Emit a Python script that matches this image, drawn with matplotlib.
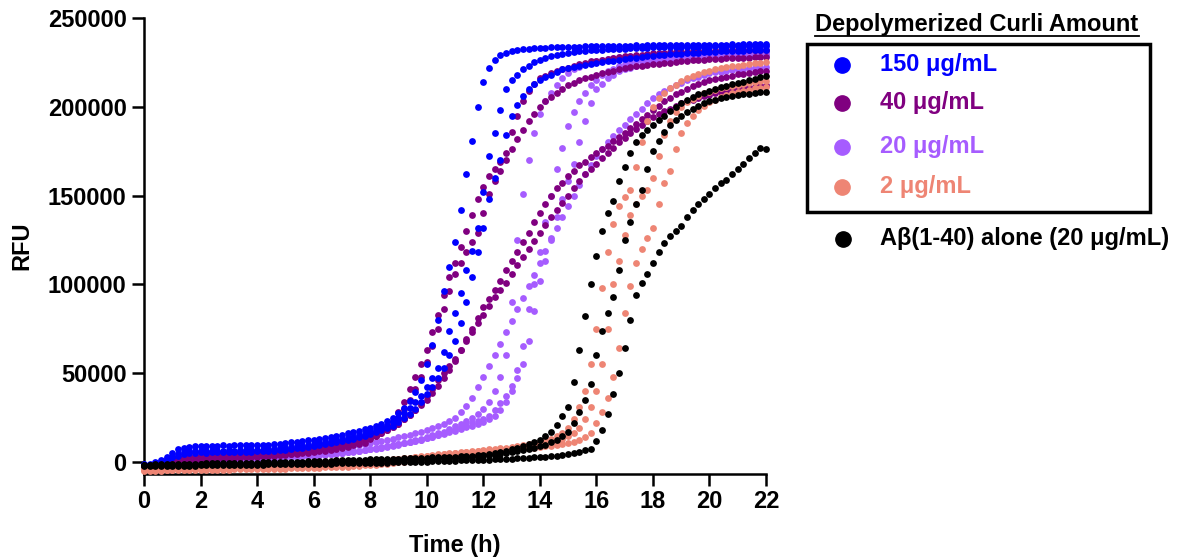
import numpy as np
import matplotlib.pyplot as plt
from matplotlib.lines import Line2D
from matplotlib.patches import Rectangle

plt.rcParams['font.family'] = ['Liberation Sans', 'DejaVu Sans']
plt.rcParams['font.weight'] = 'bold'

# plate read every 12 min, 0 - 22 h
time_h = np.arange(111) * 0.2

# RFU values in thousands, one list per replicate well
blue_150_a = [
    -1, -1, 0, 1, 3, 5, 7, 8, 8.5, 9,
    9, 9.2, 9, 9.1, 9.3, 9.2, 9.4, 9.3, 9.5, 9.4,
    9.6, 9.6, 9.8, 10, 10.2, 10.5, 11, 11.3, 11.7, 12.2,
    12.6, 13.1, 13.6, 14.2, 14.8, 15.4, 16, 16.7, 17.5, 18.3,
    19.2, 20.2, 21.5, 23, 25, 27.5, 30.5, 34.5, 39.5, 46,
    55, 66, 80, 96, 110, 124, 142, 162, 181, 200,
    214, 222, 226.5, 229, 230.5, 231.5, 232, 232.5, 232.8, 233,
    233.2, 233.3, 233.5, 233.4, 233.6, 233.8, 233.7, 233.9, 234, 234,
    234.1, 234, 234.2, 234.3, 234.2, 234.4, 234.3, 234.5, 234.4, 234.5,
    234.6, 234.5, 234.7, 234.6, 234.7, 234.8, 234.7, 234.8, 234.9, 234.8,
    234.9, 235, 234.9, 235, 235.1, 235, 235.1, 235.2, 235.1, 235.2,
    235.2]
blue_150_b = [
    -1.5, -1.5, -1, 0, 1.5, 3, 4.5, 5.5, 6, 6.2,
    6.2, 6.3, 6.2, 6.4, 6.3, 6.5, 6.4, 6.6, 6.5, 6.7,
    6.8, 6.9, 7.1, 7.3, 7.6, 7.9, 8.3, 8.7, 9.1, 9.5,
    10, 10.5, 11, 11.6, 12.2, 12.8, 13.5, 14.2, 15, 15.8,
    16.7, 17.7, 19, 20.5, 22.5, 25, 27.5, 30.5, 33.5, 37,
    42, 47, 53, 62, 74, 84, 95, 108, 119, 132,
    152, 172, 185, 198, 210, 215, 218, 221, 223, 225,
    226.5, 227.2, 228.5, 229.2, 229.8, 230.5, 230.9, 231.3, 231.6, 231.8,
    232, 232.2, 232.4, 232.5, 232.7, 232.8, 233, 233.1, 233.2, 233.3,
    233.4, 233.4, 233.5, 233.6, 233.6, 233.7, 233.7, 233.8, 233.8, 233.9,
    233.9, 234, 234, 234, 234.1, 234.1, 234.1, 234.2, 234.2, 234.2,
    234.3]
blue_150_c = [
    -2, -2, -1.5, -0.5, 1, 2.5, 3.5, 4.5, 5, 5.2,
    5.3, 5.2, 5.4, 5.3, 5.5, 5.4, 5.6, 5.6, 5.7, 5.8,
    5.9, 6, 6.2, 6.4, 6.6, 6.9, 7.2, 7.6, 8, 8.4,
    8.9, 9.4, 9.9, 10.5, 11.1, 11.7, 12.4, 13.1, 13.9, 14.7,
    15.6, 16.6, 17.7, 19, 20.5, 22.2, 24.5, 27, 30, 34,
    38, 42, 47, 53, 60, 68, 78, 90, 104, 118,
    132, 148, 160, 170, 184, 195, 201, 206, 210, 213,
    215, 216.5, 218, 219.5, 221, 221.8, 222.4, 223, 223.5, 224,
    224.8, 225.2, 225.6, 226, 226.4, 226.8, 227.2, 227.6, 228, 228.4,
    228.8, 229, 229.3, 229.5, 229.7, 229.9, 230.1, 230.3, 230.5, 230.7,
    230.9, 231, 231.2, 231.3, 231.4, 231.5, 231.6, 231.7, 231.8, 231.9,
    232]

purple_40_a = [
    -2, -2, -1.5, -1, 0, 1, 2, 2.8, 3.3, 3.6,
    3.8, 3.9, 4, 4.1, 4.2, 4.3, 4.4, 4.5, 4.7, 4.8,
    5, 5.2, 5.4, 5.6, 5.9, 6.2, 6.5, 6.8, 7.2, 7.6,
    8, 8.5, 9, 9.6, 10.2, 10.9, 11.6, 12.4, 13.3, 14.3,
    15.4, 16.8, 18.5, 20.5, 23, 28, 34, 41, 48, 55,
    63, 73, 83, 94, 104, 112, 121, 130, 139, 148,
    155, 161, 165, 169, 174, 186, 195, 203, 209, 213,
    216, 217.5, 219, 220, 221, 222, 223, 224, 224.8, 225.5,
    226, 226.5, 227, 227.5, 228, 228.4, 228.8, 229.1, 229.4, 229.7,
    230, 230.2, 230.4, 230.6, 230.8, 231, 231.1, 231.2, 231.3, 231.4,
    231.5, 231.6, 231.7, 231.8, 231.8, 231.9, 232, 232, 232.1, 232.1,
    232.2]
purple_40_b = [
    -2.5, -2.5, -2, -1.5, -0.5, 0.5, 1.5, 2.2, 2.7, 3,
    3.1, 3.2, 3.3, 3.4, 3.5, 3.6, 3.7, 3.8, 3.9, 4,
    4.2, 4.4, 4.6, 4.8, 5, 5.3, 5.6, 5.9, 6.3, 6.7,
    7.1, 7.6, 8.1, 8.7, 9.3, 10, 10.7, 11.5, 12.4, 13.4,
    14.5, 15.8, 17.3, 19, 21.5, 25, 30, 35, 41, 48,
    56, 65, 75, 86, 96, 106, 112, 118, 124, 129,
    140, 151, 158, 164, 170, 176, 182, 187, 192, 196,
    200, 203, 205.5, 208, 210, 212, 213.5, 215, 216, 217,
    218, 218.8, 219.5, 220.2, 221, 221.6, 222.2, 222.8, 223.2, 223.6,
    224, 224.3, 224.6, 224.9, 225.2, 225.5, 225.8, 226.1, 226.3, 226.5,
    226.7, 226.9, 227.1, 227.3, 227.4, 227.5, 227.6, 227.7, 227.8, 227.9,
    228]
purple_40_c = [
    -2, -2, -1.8, -1.5, -1, -0.5, 0, 0.5, 1, 1.3,
    1.5, 1.7, 1.8, 2, 2.1, 2.2, 2.4, 2.5, 2.7, 2.8,
    3, 3.2, 3.4, 3.6, 3.8, 4, 4.3, 4.6, 4.9, 5.2,
    5.6, 6, 6.4, 6.9, 7.4, 8, 8.6, 9.3, 10, 10.8,
    13, 14.5, 16, 17.7, 19.5, 21.5, 24, 26.5, 29, 32,
    35, 39, 43, 47, 52, 57, 63, 69, 75, 81,
    87, 92, 97, 102, 108, 113, 118, 124, 129, 135,
    140, 145, 150, 154, 157, 161, 164, 167, 169, 171.5,
    174, 176, 178, 180.5, 183, 185.5, 188, 190.5, 193, 195.5,
    198, 200.5, 203, 205, 207, 208.5, 210, 211.5, 213, 214,
    215, 215.7, 216.3, 217, 217.6, 218.2, 218.7, 219.2, 219.6, 220,
    220.3]
purple_40_d = [
    -2.5, -2.5, -2.2, -2, -1.5, -1, -0.5, 0, 0.4, 0.7,
    1, 1.2, 1.4, 1.6, 1.7, 1.9, 2.1, 2.3, 2.5, 2.7,
    2.9, 3.1, 3.3, 3.6, 3.9, 4.2, 4.5, 4.9, 5.3, 5.7,
    6.1, 6.6, 7.1, 7.7, 8.3, 9, 9.7, 10.5, 11.4, 12.4,
    13.5, 14.8, 16.2, 17.8, 19.6, 21.5, 24, 26.5, 29.5, 33,
    37, 41, 46, 50, 54, 58, 63, 68, 73, 78,
    83, 88, 93, 97, 101, 106, 111, 115.5, 120, 124.5,
    129, 133.5, 138, 142, 146, 150, 154, 158, 162, 165,
    168, 171, 174, 177, 180, 182.5, 185, 187.5, 190, 192,
    194, 196, 197.5, 199, 200.5, 202, 203, 204, 205, 206,
    206.8, 207.5, 208.2, 208.8, 209.4, 210, 210.5, 211, 211.4, 211.8,
    212]

lilac_20_a = [
    -2, -2, -1.8, -1.5, -1, -0.5, 0, 0.3, 0.6, 0.8,
    1, 1.1, 1.2, 1.3, 1.4, 1.5, 1.6, 1.7, 1.8, 1.9,
    2, 2.1, 2.2, 2.4, 2.6, 2.8, 3, 3.2, 3.4, 3.6,
    3.8, 4, 4.3, 4.6, 4.9, 5.2, 5.5, 5.9, 6.3, 6.7,
    7.2, 7.7, 8.2, 8.8, 9.4, 10, 10.7, 11.4, 12.2, 13,
    14, 15, 16, 17, 18.5, 20, 21.5, 23, 25, 27,
    30, 34, 40, 48, 60, 90, 125, 151, 170, 185,
    196, 203, 208, 212, 216, 219, 221, 222.5, 224, 225,
    226, 226.5, 227, 227.4, 227.8, 228.1, 228.4, 228.6, 228.8, 229,
    229.2, 229.4, 229.5, 229.6, 229.7, 229.8, 229.9, 230, 230.1, 230.2,
    230.3, 230.4, 230.5, 230.5, 230.6, 230.6, 230.7, 230.7, 230.8, 230.8,
    230.9]
lilac_20_b = [
    -2.5, -2.5, -2.2, -2, -1.5, -1, -0.6, -0.2, 0.1, 0.4,
    0.6, 0.8, 0.9, 1, 1.1, 1.2, 1.3, 1.4, 1.5, 1.6,
    1.7, 1.8, 1.9, 2.1, 2.3, 2.5, 2.7, 2.9, 3.1, 3.3,
    3.5, 3.8, 4.1, 4.4, 4.7, 5, 5.4, 5.8, 6.2, 6.6,
    7, 7.5, 8, 8.6, 9.2, 9.8, 10.4, 11.1, 11.8, 12.6,
    13.4, 14.3, 15.2, 16.1, 17.2, 18.3, 19.4, 20.5, 21.7, 23,
    24, 26, 29, 33, 37, 43, 52, 65, 86, 100,
    118, 135, 150, 165, 177, 189, 197, 203, 208, 212,
    215, 218, 220, 221.5, 223, 224, 224.8, 225.5, 226, 226.5,
    227, 227.3, 227.6, 227.9, 228.1, 228.3, 228.5, 228.7, 228.8, 228.9,
    229, 229.1, 229.2, 229.3, 229.3, 229.4, 229.4, 229.5, 229.5, 229.6,
    229.6]
lilac_20_c = [
    -2, -2, -1.8, -1.6, -1.2, -0.8, -0.4, 0, 0.3, 0.5,
    0.7, 0.8, 0.9, 1, 1.1, 1.2, 1.3, 1.4, 1.5, 1.6,
    1.7, 1.8, 2, 2.2, 2.4, 2.6, 2.8, 3, 3.2, 3.4,
    3.6, 3.9, 4.2, 4.5, 4.8, 5.1, 5.5, 5.9, 6.3, 6.7,
    7.1, 7.6, 8.1, 8.7, 9.3, 9.9, 10.5, 11.2, 11.9, 12.6,
    13.3, 14.1, 14.9, 15.7, 16.6, 17.5, 18.4, 19.4, 20.4, 21.5,
    22.5, 24, 26, 29, 34, 40, 47, 55, 68, 85,
    102, 113, 126, 138, 148, 158, 168, 180, 192, 202,
    210, 213, 216, 218, 220, 221, 222, 223, 223.7, 224.4,
    225, 225.5, 226, 226.4, 226.8, 227.1, 227.4, 227.6, 227.8, 228,
    228.2, 228.3, 228.4, 228.5, 228.6, 228.7, 228.8, 228.8, 228.9, 228.9,
    229]
lilac_20_d = [
    -2, -2, -1.8, -1.5, -1, -0.5, 0, 0.4, 0.8, 1.1,
    1.4, 1.6, 1.8, 2, 2.2, 2.4, 2.6, 2.8, 3, 3.2,
    3.4, 3.6, 3.8, 4, 4.3, 4.6, 4.9, 5.2, 5.5, 5.8,
    6.1, 6.5, 6.9, 7.3, 7.7, 8.1, 8.6, 9.1, 9.6, 10.1,
    10.6, 11.2, 11.8, 12.4, 13.1, 13.8, 14.6, 15.4, 16.2, 17.1,
    18, 19, 20.2, 21.5, 23, 25, 28, 31.5, 36, 42,
    48, 54, 60, 66.5, 73, 79.5, 86, 92.5, 99, 105.5,
    112, 118.5, 125, 131.5, 138, 144, 150, 156, 162, 167,
    172, 176, 180, 183.5, 187, 190, 193, 196, 199, 202,
    205, 207, 209, 210.5, 212, 213.5, 215, 216, 217, 218,
    219, 219.4, 219.8, 220.2, 220.6, 221, 221.3, 221.6, 221.8, 222,
    222.2]

salmon_2_a = [
    -4.5, -4.5, -4.4, -4.4, -4.3, -4.3, -4.2, -4.2, -4.1, -4.1,
    -4, -4, -3.9, -3.9, -3.8, -3.8, -3.7, -3.7, -3.6, -3.6,
    -3.5, -3.5, -3.4, -3.3, -3.3, -3.2, -3.1, -3, -2.9, -2.8,
    -2.7, -2.6, -2.4, -2.2, -2, -1.8, -1.5, -1.2, -0.9, -0.6,
    -0.3, 0, 0.4, 0.8, 1.2, 1.6, 2, 2.4, 2.8, 3.2,
    3.6, 4, 4.3, 4.6, 4.9, 5.2, 5.5, 5.8, 6.1, 6.4,
    6.7, 7, 7.3, 7.7, 8.1, 8.5, 9, 9.5, 10, 10.6,
    11.2, 12, 13, 14.5, 16, 19, 24, 31, 40, 55,
    75, 98, 118, 134, 144, 149, 153, 166, 180, 192,
    200, 205, 208, 210.5, 212.5, 214.5, 216, 217.5, 218.5, 219.5,
    220.3, 221, 221.6, 222.2, 222.7, 223.2, 223.6, 224, 224.4, 224.7,
    225]
salmon_2_b = [
    -4, -4, -4, -3.9, -3.9, -3.8, -3.8, -3.7, -3.7, -3.6,
    -3.6, -3.5, -3.5, -3.4, -3.4, -3.3, -3.3, -3.2, -3.2, -3.1,
    -3.1, -3, -3, -2.9, -2.8, -2.7, -2.6, -2.5, -2.4, -2.3,
    -2.2, -2, -1.8, -1.6, -1.4, -1.2, -0.9, -0.6, -0.3, 0,
    0.3, 0.6, 0.9, 1.2, 1.5, 1.8, 2.1, 2.4, 2.7, 3,
    3.3, 3.6, 3.9, 4.2, 4.5, 4.8, 5.1, 5.4, 5.7, 6,
    6.3, 6.6, 6.9, 7.2, 7.5, 7.9, 8.3, 8.7, 9.1, 9.5,
    10, 10.6, 11.2, 12, 13, 14.5, 16.5, 19, 24, 31,
    40, 55, 75, 100, 113, 128, 139, 145, 150, 153,
    160, 172, 184, 192, 197, 200, 202.5, 204.5, 206, 207.5,
    208.5, 209.5, 210.3, 211, 211.7, 212.3, 212.9, 213.4, 213.9, 214.3,
    214.7]
salmon_2_c = [
    -5, -5, -4.9, -4.9, -4.8, -4.8, -4.7, -4.7, -4.6, -4.6,
    -4.5, -4.5, -4.4, -4.4, -4.3, -4.3, -4.2, -4.2, -4.1, -4.1,
    -4, -4, -3.9, -3.9, -3.8, -3.8, -3.7, -3.6, -3.5, -3.4,
    -3.3, -3.2, -3.1, -3, -2.9, -2.8, -2.6, -2.4, -2.2, -2,
    -1.8, -1.5, -1.2, -0.9, -0.6, -0.3, 0, 0.4, 0.8, 1.2,
    1.6, 2, 2.4, 2.8, 3.2, 3.6, 4, 4.4, 4.8, 5.1,
    5.4, 5.7, 6, 6.3, 6.6, 6.9, 7.2, 7.5, 7.8, 8.1,
    8.4, 8.8, 9.2, 9.6, 10, 10.6, 11.4, 12.4, 14, 16.5,
    22, 28, 36, 48, 64, 84, 99, 112, 120, 126,
    132, 145, 157, 164, 176, 185, 191, 195, 198, 200.5,
    202.5, 204, 205.5, 206.5, 207.5, 208.3, 209, 209.7, 210.3, 210.8,
    211.2]

abeta_alone_a = [
    -1.5, -1.5, -1.4, -1.3, -1.2, -1.2, -1.1, -1, -1, -0.9,
    -0.9, -0.8, -0.8, -0.7, -0.7, -0.6, -0.6, -0.5, -0.5, -0.4,
    -0.4, -0.3, -0.3, -0.2, -0.1, 0, 0, 0.1, 0.2, 0.3,
    0.4, 0.5, 0.6, 0.7, 0.8, 0.9, 1, 1.1, 1.2, 1.3,
    1.4, 1.5, 1.6, 1.7, 1.8, 1.9, 2, 2.1, 2.2, 2.3,
    2.4, 2.5, 2.6, 2.7, 2.8, 3, 3.2, 3.4, 3.6, 3.8,
    4, 4.4, 4.9, 5.5, 6.2, 7, 8, 9, 10, 11,
    12.5, 14.5, 17, 21, 26, 31, 45, 63, 82, 100,
    116, 130, 140, 147, 158, 166, 174, 180, 184, 187,
    190, 192.5, 195, 197.5, 200, 202, 204, 205.5, 207, 208,
    209, 210, 211, 211.8, 212.6, 213.4, 214.2, 215, 215.8, 216.5,
    217.2]
abeta_alone_b = [
    -2, -2, -1.9, -1.8, -1.8, -1.7, -1.6, -1.6, -1.5, -1.5,
    -1.4, -1.4, -1.3, -1.3, -1.2, -1.2, -1.1, -1.1, -1, -1,
    -0.9, -0.9, -0.8, -0.8, -0.7, -0.6, -0.5, -0.5, -0.4, -0.3,
    -0.2, -0.1, 0, 0.1, 0.2, 0.3, 0.4, 0.5, 0.6, 0.7,
    0.8, 0.9, 1, 1.1, 1.2, 1.3, 1.4, 1.5, 1.6, 1.7,
    1.8, 1.9, 2, 2.1, 2.2, 2.4, 2.6, 2.8, 3, 3.2,
    3.4, 3.7, 4, 4.4, 4.8, 5.3, 5.9, 6.5, 7.2, 8,
    8.8, 9.8, 11, 12.5, 14.5, 17, 22, 28, 35, 44,
    60, 74, 84, 93, 108, 125, 135, 145, 153, 165,
    175, 181, 186, 189.5, 192.5, 195, 197, 199, 200.5, 202,
    203, 204, 204.8, 205.5, 206, 206.5, 207, 207.4, 207.8, 208.2,
    208.5]
abeta_alone_c = [
    -2.5, -2.5, -2.4, -2.4, -2.3, -2.3, -2.2, -2.2, -2.1, -2.1,
    -2, -2, -1.9, -1.9, -1.8, -1.8, -1.7, -1.7, -1.6, -1.6,
    -1.5, -1.5, -1.4, -1.4, -1.3, -1.3, -1.2, -1.2, -1.1, -1.1,
    -1, -1, -0.9, -0.9, -0.8, -0.8, -0.7, -0.7, -0.6, -0.6,
    -0.5, -0.5, -0.4, -0.4, -0.3, -0.3, -0.2, -0.1, 0, 0.1,
    0.2, 0.3, 0.4, 0.5, 0.6, 0.7, 0.8, 0.9, 1, 1.1,
    1.2, 1.3, 1.4, 1.5, 1.6, 1.8, 2, 2.2, 2.4, 2.6,
    2.8, 3, 3.3, 3.6, 4, 4.5, 5, 5.7, 6.5, 7.5,
    12, 18, 27, 38, 50, 64, 80, 94, 101, 106,
    112, 118, 123, 127, 130, 133, 138, 142, 145, 148,
    151, 154, 157, 159, 162, 165, 168, 171, 174, 176.5,
    176]

legend_labels = ['150 μg/mL', '40 μg/mL', '20 μg/mL', '2 μg/mL']
control_label = 'Aβ(1-40) alone (20 μg/mL)'
c_blue, c_purple, c_lilac, c_salmon, c_black = '#0000FF', '#800080', '#A65CFF', '#EE8574', '#000000'

fig = plt.figure(figsize=(11.78, 5.6), dpi=100)
ax = fig.add_axes([0.1222, 0.1536, 0.5281, 0.8143])

draw = [
    (c_lilac, [lilac_20_a, lilac_20_b, lilac_20_c, lilac_20_d]),
    (c_purple, [purple_40_a, purple_40_b, purple_40_c, purple_40_d]),
    (c_blue, [blue_150_a, blue_150_b, blue_150_c]),
    (c_salmon, [salmon_2_a, salmon_2_b, salmon_2_c]),
    (c_black, [abeta_alone_a, abeta_alone_b, abeta_alone_c]),
]
for colour, wells in draw:
    for well in wells:
        ax.scatter(time_h, np.array(well) * 1000, s=24, color=colour,
                   linewidths=0, clip_on=False, zorder=3)

ax.set_xlim(0, 22)
ax.set_ylim(-6800, 250000)
ax.set_xticks(range(0, 23, 2))
yt = list(range(0, 250001, 50000))
ax.set_yticks(yt)
ax.set_yticklabels([str(v) for v in yt])
for side in ['top', 'right']:
    ax.spines[side].set_visible(False)
for side in ['left', 'bottom']:
    ax.spines[side].set_linewidth(1.8)
ax.tick_params(width=1.8, length=8.5, labelsize=17)
ax.tick_params(axis='y', pad=4)
ax.tick_params(axis='x', pad=3)
ax.set_xlabel('Time (h)', fontsize=17, fontweight='bold', labelpad=15)
ax.set_ylabel('RFU', fontsize=17, fontweight='bold', labelpad=10)

# legend drawn by hand, in pixel positions of the figure
W, H = 1178, 560
def fx(x):
    return x / W
def fy(y):
    return 1 - y / H

title = fig.text(fx(977), fy(25), 'Depolymerized Curli Amount', ha='center', va='center',
                 fontsize=17, fontweight='bold')
fig.canvas.draw()
bb = title.get_window_extent(fig.canvas.get_renderer())
fig.add_artist(Line2D([bb.x0 / W, bb.x1 / W], [(bb.y0 + 1) / H] * 2, color='black',
                      lw=1.3, transform=fig.transFigure))
fig.add_artist(Rectangle((fx(807), fy(212)), (1150 - 807) / W, (212 - 44) / H, fill=False,
                         lw=2.5, edgecolor='black', transform=fig.transFigure))

entry_y = [65, 103, 147, 187]
for label, colour, y in zip(legend_labels, [c_blue, c_purple, c_lilac, c_salmon], entry_y):
    fig.add_artist(Line2D([fx(842)], [fy(y)], marker='o', markersize=11, color=colour,
                          lw=0, transform=fig.transFigure))
    fig.text(fx(880), fy(y), label, color=colour, va='center', fontsize=17, fontweight='bold')
fig.add_artist(Line2D([fx(843)], [fy(239)], marker='o', markersize=11, color=c_black,
                      lw=0, transform=fig.transFigure))
fig.text(fx(880), fy(239), control_label, color=c_black, va='center', fontsize=17,
         fontweight='bold')

fig.savefig('out.png', dpi=100)
